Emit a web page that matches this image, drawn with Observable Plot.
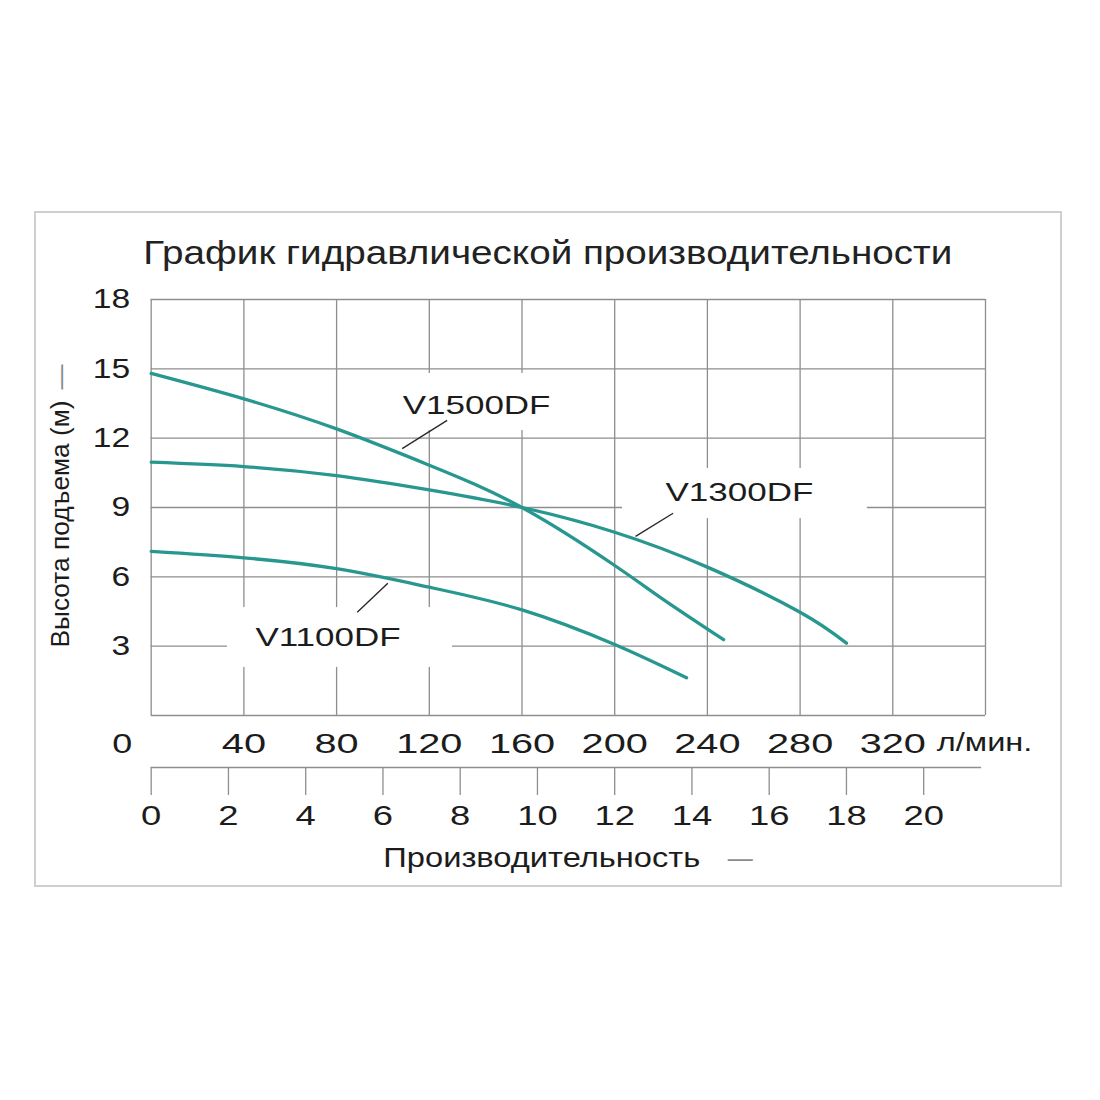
<!DOCTYPE html>
<html><head><meta charset="utf-8">
<script src="https://cdn.jsdelivr.net/npm/d3@7"></script>
<script src="https://cdn.jsdelivr.net/npm/@observablehq/plot@0.6"></script>
<style>
body{margin:0;background:#fff;}
#wrap{position:relative;width:1100px;height:1100px;}
#box{position:absolute;left:34px;top:211px;width:1024px;height:672px;border:2px solid #cfcfcf;}
#chart{position:absolute;left:0;top:0;}
</style></head><body>
<div id="wrap"><div id="box"></div><div id="chart"></div></div>
<script>
// ---- text ----
const title = "График гидравлической производительности";
const yLabel = "Высота подъема (м)";
const xLabel = "Производительность";
const flowUnit = "л/мин.";

// ---- axes ----
const lminTicks = [40, 80, 120, 160, 200, 240, 280, 320];   // л/мин.
const m3hTicks = [0, 2, 4, 6, 8, 10, 12, 14, 16, 18, 20];   // м³/ч
const m3hAxisSpan = [0, 21.5];
const headTicks = [3, 6, 9, 12, 15, 18];
const xGrid = [0, 40, 80, 120, 160, 200, 240, 280, 320, 360];
const yGrid = [0, 3, 6, 9, 12, 15, 18];
const originLabel = [0];

// ---- series (flow л/мин., head м) ----
const v1500Flow = [0, 40, 80, 120, 160, 200, 222, 247];
const v1500Head = [14.8, 13.7, 12.4, 10.83, 9.0, 6.49, 4.95, 3.28];
const v1300Flow = [0, 40, 80, 120, 160, 200, 240, 280, 300];
const v1300Head = [10.96, 10.77, 10.38, 9.76, 9.0, 7.93, 6.42, 4.47, 3.13];
const v1100Flow = [0, 40, 80, 120, 160, 200, 231];
const v1100Head = [7.1, 6.82, 6.35, 5.55, 4.57, 3.07, 1.63];

// ---- annotations ----
const models = ["V1500DF", "V1300DF", "V1100DF"];
const labelFlow = [140.4, 253.8, 76.3];
const labelHead = [13.41, 9.62, 3.36];
const leaderFlow1 = [108.3, 209.0, 88.9];
const leaderHead1 = [11.55, 7.75, 4.47];
const leaderFlow2 = [127.7, 225.2, 102.1];
const leaderHead2 = [12.77, 8.75, 5.72];
const boxFlow1 = [90, 203.4, 32.9];
const boxFlow2 = [182, 309, 130];
const boxHead1 = [12.33, 8.52, 2.08];
const boxHead2 = [14.8, 10.69, 4.67];

const L = 1000 / 60; // л/мин. per м³/ч

const curves = [
  ...v1500Flow.map((f, i) => ({model: "V1500DF", flow: f, head: v1500Head[i]})),
  ...v1300Flow.map((f, i) => ({model: "V1300DF", flow: f, head: v1300Head[i]})),
  ...v1100Flow.map((f, i) => ({model: "V1100DF", flow: f, head: v1100Head[i]}))
];
const notes = models.map((m, i) => ({
  m, lx: labelFlow[i], ly: labelHead[i],
  x1: leaderFlow1[i], y1: leaderHead1[i], x2: leaderFlow2[i], y2: leaderHead2[i],
  bx1: boxFlow1[i], bx2: boxFlow2[i], by1: boxHead1[i], by2: boxHead2[i]
}));

const grid = {stroke: "#8e8e8e", strokeWidth: 1.3, strokeOpacity: 1};
const teal = "#27978f";
const ink = "#1c1c1c";

const chart = Plot.plot({
  width: 1100, height: 1100,
  marginLeft: 150.7, marginRight: 115, marginTop: 299, marginBottom: 385,
  x: {domain: [0, 360]},
  y: {domain: [0, 18]},
  style: {fontFamily: "'Liberation Sans', Arial, sans-serif", color: ink, background: "transparent", overflow: "visible"},
  marks: [
    Plot.ruleX(xGrid, {x: d => d, ...grid}),
    Plot.ruleY(yGrid, {y: d => d, ...grid}),
    Plot.rect(notes, {x1: "bx1", x2: "bx2", y1: "by1", y2: "by2", fill: "white"}),
    Plot.line(curves, {x: "flow", y: "head", z: "model", stroke: teal, strokeWidth: 3.3, curve: "natural"}),
    Plot.link(notes, {x1: "x1", y1: "y1", x2: "x2", y2: "y2", stroke: "#2a2a2a", strokeWidth: 1.4}),
    Plot.text(notes, {x: "lx", y: "ly", text: "m", fontSize: 25, fill: ink}),
    Plot.axisY(headTicks, {anchor: "left", tickSize: 0, tickPadding: 21, fontSize: 28, label: null, fill: ink}),
    Plot.axisX(lminTicks, {anchor: "bottom", tickSize: 0, tickPadding: 18, fontSize: 27, label: null, fill: ink}),
    Plot.text(originLabel, {x: d => d, y: d => d, text: d => String(d), lineAnchor: "top", dy: 18, dx: -29, fontSize: 27, fill: ink}),
    Plot.text([flowUnit], {x: () => lminTicks[lminTicks.length - 1], y: () => 0, text: d => d, textAnchor: "start", lineAnchor: "top", dx: 44, dy: 18, fontSize: 25, fill: ink}),
    Plot.axisX(m3hTicks.map(v => v * L), {anchor: "bottom", tickSize: 28, tickPadding: 10, dy: 52, fontSize: 28, label: null,
      tickFormat: d => String(Math.round(d / L)), stroke: "#8e8e8e", strokeWidth: 1.3, fill: ink}),
    Plot.ruleY([0], {y: d => d, x1: m3hAxisSpan[0] * L, x2: m3hAxisSpan[1] * L, dy: 52, ...grid}),
    Plot.text([title], {frameAnchor: "top", lineAnchor: "bottom", dy: -36, dx: -20.5, fontSize: 34, fill: "#222"}),
    Plot.text([yLabel], {frameAnchor: "left", rotate: -90, textAnchor: "middle", lineAnchor: "middle", dx: -90, dy: 16.5, fontSize: 25, fill: ink}),
    Plot.text(["—"], {frameAnchor: "left", rotate: -90, textAnchor: "middle", lineAnchor: "middle", dx: -90, dy: -130.5, fontSize: 25, fill: "#8a8a8a"}),
    Plot.text([xLabel], {frameAnchor: "bottom", textAnchor: "middle", lineAnchor: "middle", dy: 143, dx: -26.5, fontSize: 27, fill: ink}),
    Plot.text(["—"], {frameAnchor: "bottom", textAnchor: "middle", lineAnchor: "middle", dy: 143, dx: 172, fontSize: 25, fill: "#8a8a8a"})
  ]
});
document.getElementById("chart").appendChild(chart);

// horizontally stretched lettering as in the original
function setLen(t, len) {
  t.setAttribute("textLength", len);
  t.setAttribute("lengthAdjust", "spacingAndGlyphs");
}
chart.querySelectorAll('g[aria-label="x-axis tick label"]').forEach((g, i) => {
  const f = i === 0 ? 1.47 : 1.3;
  g.querySelectorAll("text").forEach(t => setLen(t, t.getComputedTextLength() * f));
});
chart.querySelectorAll('g[aria-label="y-axis tick label"] text').forEach(t => setLen(t, t.getComputedTextLength() * 1.2));
const targets = new Map([[title, 809], [xLabel, 317], [yLabel, 247]]);
const factors = new Map([[flowUnit, 1.3], ["0", 1.33], ...models.map(m => [m, 1.4])]);
chart.querySelectorAll('g[aria-label="text"] text').forEach(t => {
  const s = t.textContent;
  if (targets.has(s)) setLen(t, targets.get(s));
  else if (factors.has(s)) setLen(t, t.getComputedTextLength() * factors.get(s));
});
</script>
</body></html>
